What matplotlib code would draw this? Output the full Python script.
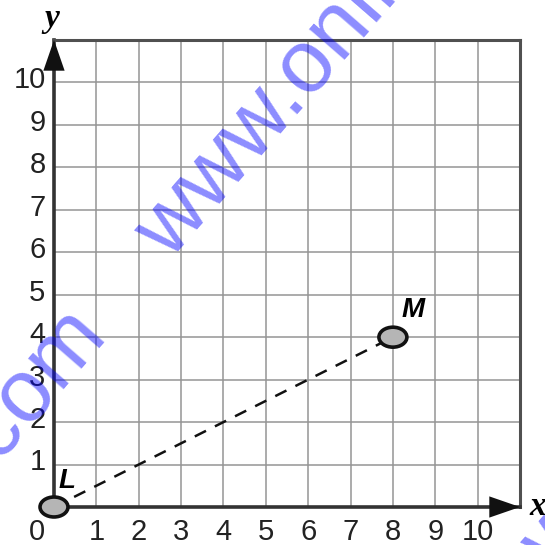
import matplotlib.pyplot as plt
import numpy as np
from matplotlib.patches import Ellipse

# chart data
point_names = ["L", "M"]
point_x = [0, 8]
point_y = [0, 4]
x_ticks = list(range(1, 11))
y_ticks = list(range(1, 11))
axis_max = 11

SANS = ["Liberation Sans", "DejaVu Sans"]
SERIF = ["Liberation Serif", "DejaVu Serif"]


def main():
    fig = plt.figure(figsize=(5.45, 5.45), dpi=100)
    ax = fig.add_axes([54 / 545, 38 / 545, 466 / 545, 467 / 545])
    ax.set_xlim(0, axis_max)
    ax.set_ylim(0, axis_max)

    # grid
    ax.set_xticks(range(0, axis_max + 1))
    ax.set_yticks(range(0, axis_max + 1))
    ax.grid(True, color="#959595", linewidth=1.1, zorder=1)
    ax.tick_params(length=0, labelbottom=False, labelleft=False)

    for side in ["top", "right"]:
        ax.spines[side].set_color("#505050")
        ax.spines[side].set_linewidth(2.2)
    for side in ["left", "bottom"]:
        ax.spines[side].set_color("#333333")
        ax.spines[side].set_linewidth(2.6)

    # axis arrows
    arrow = dict(arrowstyle="-|>,head_length=1.3,head_width=0.45", color="#111111",
                 lw=0, mutation_scale=17, shrinkA=0, shrinkB=0)
    ax.annotate("", xy=(0, axis_max), xytext=(0, axis_max - 0.6),
                arrowprops=arrow, annotation_clip=False, zorder=5)
    ax.annotate("", xy=(axis_max, 0), xytext=(axis_max - 0.6, 0),
                arrowprops=arrow, annotation_clip=False, zorder=5)

    # tick labels
    for v in x_ticks:
        ax.text(v, -0.27, str(v), ha="center", va="top", fontsize=21,
                family=SANS, color="#222222")
    for v in y_ticks:
        ax.text(-0.2, v + 0.05, str(v), ha="right", va="center", fontsize=21,
                family=SANS, color="#222222")
    ax.text(-0.4, -0.27, "0", ha="center", va="top", fontsize=21,
            family=SANS, color="#222222")

    ax.text(-0.05, axis_max + 0.5, "y", ha="center", va="center", fontsize=24,
            family=SERIF, style="italic", weight="bold", clip_on=False)
    ax.text(axis_max + 0.42, 0.02, "x", ha="center", va="center", fontsize=24,
            family=SERIF, style="italic", weight="bold", clip_on=False)

    # dashed segment and points
    ax.plot(point_x, point_y, color="#111111", lw=1.8, dashes=(5, 4), zorder=3)
    for name, px, py in zip(point_names, point_x, point_y):
        e = Ellipse((px, py), 0.66, 0.47, facecolor="#b5b5b5", edgecolor="#111111",
                    lw=2.6, zorder=6, clip_on=False)
        ax.add_patch(e)
    ax.text(point_x[0] + 0.3, point_y[0] + 0.62, point_names[0], ha="center", va="center",
            fontsize=20, family=SANS, style="italic", weight="bold", zorder=7)
    ax.text(point_x[1] + 0.48, point_y[1] + 0.64, point_names[1], ha="center", va="center",
            fontsize=20, family=SANS, style="italic", weight="bold", zorder=7)

    # watermark
    wm = dict(fontsize=64, family=SANS, color=(0.0, 0.0, 1.0), alpha=0.45,
              rotation=49, rotation_mode="anchor", zorder=10)
    fig.text(170 / 545, 1 - 262 / 545, "www.onlinemathlearning.com", ha="left",
             va="baseline", **wm)
    fig.text(108 / 545, 1 - 335 / 545, "onlinemathlearning.com", ha="right",
             va="baseline", **wm)
    fig.text(556 / 545, 1 - 574 / 545, "www.onlinemathlearning.com", ha="left",
             va="baseline", **wm)

    fig.savefig("out.png", dpi=100)


if __name__ == "__main__":
    main()
